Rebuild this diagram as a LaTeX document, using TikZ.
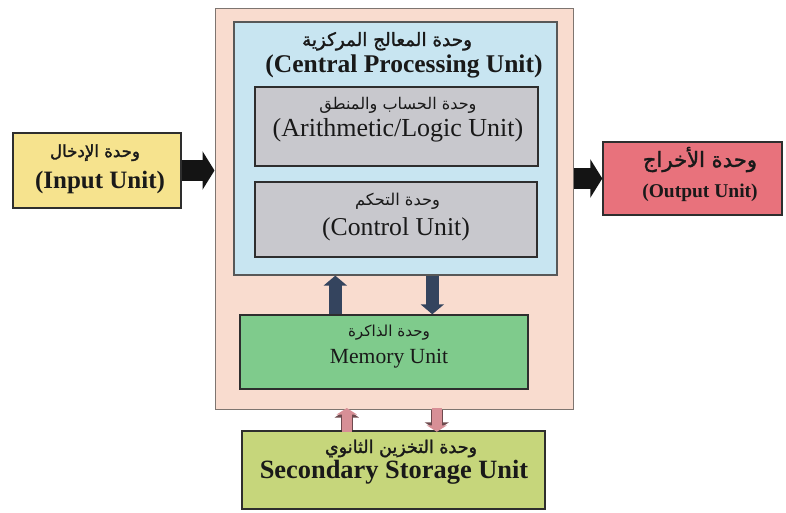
\documentclass[tikz,border=0pt]{standalone}
\usepackage{fontspec}
\usepackage{graphicx}
\usetikzlibrary{arrows.meta}
\setmainfont{Liberation Serif}
\TeXXeTstate=1
\newfontfamily\arabicfont[Script=Arabic]{DejaVu Sans}
\newfontfamily\arabicbold[Script=Arabic,FakeBold=1.6]{DejaVu Sans}
\definecolor{outerfill}{HTML}{F9DCCF}
\definecolor{outerline}{HTML}{7E7570}
\definecolor{cpufill}{HTML}{C8E5F1}
\definecolor{grayfill}{HTML}{C8C8CD}
\definecolor{memfill}{HTML}{7FCB8C}
\definecolor{secfill}{HTML}{C6D67B}
\definecolor{infill}{HTML}{F6E38E}
\definecolor{outfill}{HTML}{E8727C}
\definecolor{navy}{HTML}{34445E}
\definecolor{pinkarrow}{HTML}{D78F96}
\definecolor{pinkedge}{HTML}{6E4A4E}
\definecolor{boxline}{HTML}{2E2E2E}
\tikzset{
  box/.style={draw=boxline, line width=1.4pt, rectangle, inner sep=0pt},
  txt/.style={inner sep=0pt, anchor=base, text=black!90},
  blackarrow/.style={line width=20pt, black!92, -{Triangle[length=12pt,width=38pt]}},
  navyarrow/.style={line width=13pt, navy, -{Triangle[length=10pt,width=23pt]}},
  pinkout/.style={line width=12.5pt, pinkedge, -{Triangle[length=8pt,width=24pt]}},
  pinkin/.style={line width=9.5pt, pinkarrow, -{Triangle[length=6.5pt,width=20pt]}}
}
\begin{document}
\begin{tikzpicture}[x=1pt,y=-1pt]
\fill[white] (0,0) rectangle (786,513);
\useasboundingbox (0,0) rectangle (786,513);

% boxes
\node[box, draw=outerline, line width=1pt, fill=outerfill, minimum width=358pt, minimum height=400pt] (outer) at (394,209) {};
\node[box, draw=boxline!80, line width=1.3pt, fill=cpufill, minimum width=323pt, minimum height=253pt] (cpu) at (395.5,148.5) {};
\node[box, fill=grayfill, minimum width=283pt, minimum height=79pt] (alu) at (396.5,126.5) {};
\node[box, fill=grayfill, minimum width=282pt, minimum height=75pt] (ctrl) at (396,219.5) {};
\node[box, fill=memfill, minimum width=288pt, minimum height=74pt] (mem) at (384,352) {};
\node[box, fill=secfill, minimum width=303pt, minimum height=78pt] (sec) at (393.5,470) {};
\node[box, fill=infill, minimum width=168pt, minimum height=75pt] (in) at (97,170.5) {};
\node[box, fill=outfill, minimum width=179pt, minimum height=73pt] (out) at (692.5,178.5) {};

% texts
\node[txt] (cpuA) at (387,46) {\resizebox{170pt}{!}{\arabicbold\beginR وحدة المعالج المركزية\endR}};
\node[txt] (cpuE) at (404,73) {\fontsize{25.5}{30}\selectfont\bfseries (Central Processing Unit)};
\node[txt] (aluA) at (398,110) {\resizebox{157pt}{!}{\arabicfont\beginR وحدة الحساب والمنطق\endR}};
\node[txt] (aluE) at (398,137) {\fontsize{26}{30}\selectfont (Arithmetic/Logic Unit)};
\node[txt] (ctrlA) at (397.5,205) {\resizebox{85pt}{!}{\arabicfont\beginR وحدة التحكم\endR}};
\node[txt] (ctrlE) at (396,235) {\fontsize{25.7}{30}\selectfont (Control Unit)};
\node[txt] (memA) at (389,336) {\resizebox{82pt}{!}{\arabicfont\beginR وحدة الذاكرة\endR}};
\node[txt] (memE) at (389,363) {\fontsize{21.6}{26}\selectfont Memory Unit};
\node[txt] (secA) at (401,453) {\resizebox{152pt}{!}{\arabicbold\beginR وحدة التخزين الثانوي\endR}};
\node[txt] (secE) at (394,478) {\fontsize{26.4}{30}\selectfont\bfseries Secondary Storage Unit};
\node[txt] (inA) at (95,157) {\resizebox{90pt}{!}{\arabicbold\beginR وحدة الإدخال\endR}};
\node[txt] (inE) at (100,188) {\fontsize{25}{30}\selectfont\bfseries (Input Unit)};
\node[txt] (outA) at (700,167) {\resizebox{114pt}{!}{\arabicbold\beginR وحدة الأخراج\endR}};
\node[txt] (outE) at (700,197) {\fontsize{19.5}{24}\selectfont\bfseries (Output Unit)};

% connectors
\draw[blackarrow] (in.east) -- (outer.west |- in.east);
\draw[blackarrow] (outer.east |- out.west) -- (out.west);

\coordinate (mu) at ([xshift=96pt]mem.north west);
\coordinate (md) at ([xshift=193pt]mem.north west);
\draw[navyarrow] (mu) -- (mu |- cpu.south);
\draw[navyarrow] (md |- cpu.south) -- (md);

\coordinate (su) at ([xshift=105.5pt]sec.north west);
\coordinate (sd) at ([xshift=195.5pt]sec.north west);
\draw[pinkout] (su) -- (su |- outer.south);
\draw[pinkin] ([yshift=-1.2pt]su) -- ([yshift=1.5pt]su |- outer.south);
\draw[pinkout] (sd |- outer.south) -- (sd);
\draw[pinkin] ([yshift=1.2pt]sd |- outer.south) -- ([yshift=-1.5pt]sd);
\end{tikzpicture}
\end{document}
